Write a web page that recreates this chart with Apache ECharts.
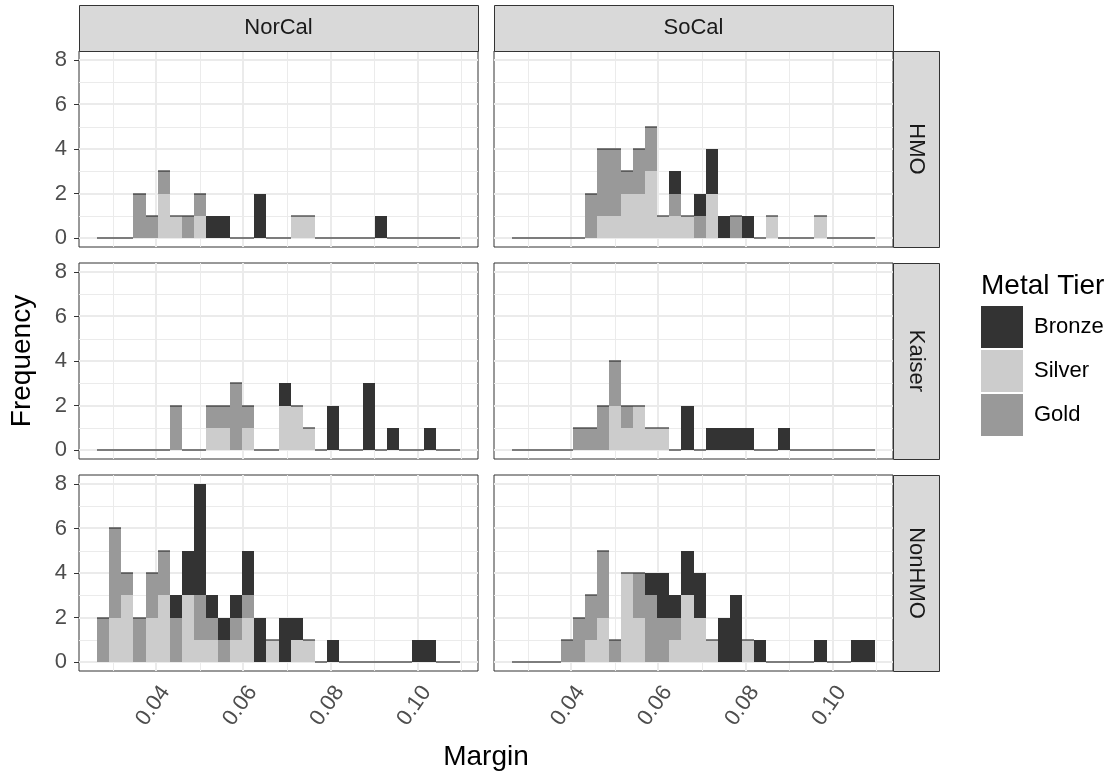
<!DOCTYPE html>
<html><head><meta charset="utf-8">
<script src="https://cdn.jsdelivr.net/npm/echarts@6/dist/echarts.min.js"></script>
<style>html,body{margin:0;padding:0;background:#fff}#c{width:1120px;height:778px}</style>
</head><body><div id="c"></div>
<script>
// ---------- data ----------
const binStart = 0.0264;
const binWidth = 0.002777;
const binCount = 30;
const regions = ['NorCal', 'SoCal'];
const plans = ['HMO', 'Kaiser', 'NonHMO'];
const tiers = ['Bronze', 'Silver', 'Gold'];
const xTickValues = [0.04, 0.06, 0.08, 0.10];
const xMinorValues = [0.03, 0.05, 0.07, 0.09, 0.11];
const yTickValues = [0, 2, 4, 6, 8];
const yMinorValues = [1, 3, 5, 7];

const norcalHmoBronze = [0,0,0,0,0,0,0,0,0,1,1,0,0,2,0,0,0,0,0,0,0,0,0,1,0,0,0,0,0,0];
const norcalHmoSilver = [0,0,0,0,0,2,1,0,1,0,0,0,0,0,0,0,1,1,0,0,0,0,0,0,0,0,0,0,0,0];
const norcalHmoGold   = [0,0,0,2,1,1,0,1,1,0,0,0,0,0,0,0,0,0,0,0,0,0,0,0,0,0,0,0,0,0];

const socalHmoBronze = [0,0,0,0,0,0,0,0,0,0,0,0,0,1,0,1,2,1,0,1,0,0,0,0,0,0,0,0,0,0];
const socalHmoSilver = [0,0,0,0,0,0,0,1,1,2,2,3,1,1,1,0,2,0,0,0,0,1,0,0,0,1,0,0,0,0];
const socalHmoGold   = [0,0,0,0,0,0,2,3,3,1,2,2,0,1,0,1,0,0,1,0,0,0,0,0,0,0,0,0,0,0];

const norcalKaiserBronze = [0,0,0,0,0,0,0,0,0,0,0,0,0,0,0,1,0,0,0,2,0,0,3,0,1,0,0,1,0,0];
const norcalKaiserSilver = [0,0,0,0,0,0,0,0,0,1,1,0,1,0,0,2,2,1,0,0,0,0,0,0,0,0,0,0,0,0];
const norcalKaiserGold   = [0,0,0,0,0,0,2,0,0,1,1,3,1,0,0,0,0,0,0,0,0,0,0,0,0,0,0,0,0,0];

const socalKaiserBronze = [0,0,0,0,0,0,0,0,0,0,0,0,0,0,2,0,1,1,1,1,0,0,1,0,0,0,0,0,0,0];
const socalKaiserSilver = [0,0,0,0,0,0,0,0,2,1,2,1,1,0,0,0,0,0,0,0,0,0,0,0,0,0,0,0,0,0];
const socalKaiserGold   = [0,0,0,0,0,1,1,2,2,1,0,0,0,0,0,0,0,0,0,0,0,0,0,0,0,0,0,0,0,0];

const norcalNonHmoBronze = [0,0,0,0,0,0,1,2,5,1,1,1,2,2,0,2,1,0,0,1,0,0,0,0,0,0,1,1,0,0];
const norcalNonHmoSilver = [0,2,3,0,2,3,0,3,1,1,0,1,2,0,1,0,1,1,0,0,0,0,0,0,0,0,0,0,0,0];
const norcalNonHmoGold   = [2,4,1,2,2,2,2,0,2,1,1,1,1,0,0,0,0,0,0,0,0,0,0,0,0,0,0,0,0,0];

const socalNonHmoBronze = [0,0,0,0,0,0,0,0,0,0,0,1,2,1,2,2,0,2,3,0,1,0,0,0,0,1,0,0,1,1];
const socalNonHmoSilver = [0,0,0,0,0,0,1,2,0,4,2,0,0,1,3,2,1,0,0,1,0,0,0,0,0,0,0,0,0,0];
const socalNonHmoGold   = [0,0,0,0,1,2,2,3,1,0,2,3,2,1,0,0,0,0,0,0,0,0,0,0,0,0,0,0,0,0];

// panels: [row][col]
const panelData = [
  [{Bronze: norcalHmoBronze, Silver: norcalHmoSilver, Gold: norcalHmoGold},
   {Bronze: socalHmoBronze, Silver: socalHmoSilver, Gold: socalHmoGold}],
  [{Bronze: norcalKaiserBronze, Silver: norcalKaiserSilver, Gold: norcalKaiserGold},
   {Bronze: socalKaiserBronze, Silver: socalKaiserSilver, Gold: socalKaiserGold}],
  [{Bronze: norcalNonHmoBronze, Silver: norcalNonHmoSilver, Gold: norcalNonHmoGold},
   {Bronze: socalNonHmoBronze, Silver: socalNonHmoSilver, Gold: socalNonHmoGold}]
];

// ---------- layout / style ----------
const colors = {Bronze: '#333333', Silver: '#CCCCCC', Gold: '#999999'};
const stackOrder = ['Silver', 'Gold', 'Bronze']; // bottom -> top
const colLeft = [79, 494], colWidth = 399;
const rowTop = [51, 263, 475], rowHeight = 196;
const stripSize = 46;
const FONT = 'Liberation Sans, Arial, sans-serif';
const SMALL = 22, BIG = 28;

const xRange = binCount * binWidth;
const xMin = binStart - 0.05 * xRange;
const xMax = binStart + xRange + 0.05 * xRange;
const yMin = -0.4, yMax = 8.4;

const grids = [], xAxes = [], yAxes = [], series = [];
let k = 0;
for (let r = 0; r < 3; r++) {
  for (let c = 0; c < 2; c++) {
    grids.push({left: colLeft[c], top: rowTop[r], width: colWidth, height: rowHeight,
      show: true, borderColor: '#333333', borderWidth: 1, backgroundColor: '#ffffff', containLabel: false});
    const bottom = r === 2, leftCol = c === 0;
    xAxes.push({type: 'value', gridIndex: k, min: xMin, max: xMax,
      axisLine: {show: false}, splitLine: {show: false},
      axisTick: {show: bottom, length: 5, customValues: xTickValues, lineStyle: {color: '#333333', width: 1}},
      axisLabel: {show: bottom, customValues: xTickValues, rotate: 55, margin: 11, verticalAlign: 'top',
        color: '#4D4D4D', fontSize: SMALL, fontFamily: FONT, formatter: v => v.toFixed(2)}});
    yAxes.push({type: 'value', gridIndex: k, min: yMin, max: yMax,
      axisLine: {show: false}, splitLine: {show: false},
      axisTick: {show: leftCol, length: 5, customValues: yTickValues, lineStyle: {color: '#333333', width: 1}},
      axisLabel: {show: leftCol, customValues: yTickValues, margin: 12,
        color: '#4D4D4D', fontSize: SMALL, fontFamily: FONT, formatter: v => String(Math.round(v))}});

    // grid lines (horizontal)
    const hData = yMinorValues.map(v => [xMin, v, 1]).concat(yTickValues.map(v => [xMin, v, 2]));
    series.push({type: 'custom', xAxisIndex: k, yAxisIndex: k, z: 1, silent: true, clip: true,
      data: hData, encode: {x: 0, y: 1},
      renderItem: (params, api) => {
        const cs = params.coordSys;
        const p = api.coord([api.value(0), api.value(1)]);
        const w = api.value(2);
        const yy = w === 1 ? Math.round(p[1]) + 0.5 : Math.round(p[1]);
        return {type: 'line', shape: {x1: cs.x, y1: yy, x2: cs.x + cs.width, y2: yy},
          style: {stroke: '#EBEBEB', lineWidth: w}};
      }});
    // grid lines (vertical)
    const vData = xMinorValues.map(v => [v, yMin, 1]).concat(xTickValues.map(v => [v, yMin, 2]));
    series.push({type: 'custom', xAxisIndex: k, yAxisIndex: k, z: 1, silent: true, clip: true,
      data: vData, encode: {x: 0, y: 1},
      renderItem: (params, api) => {
        const cs = params.coordSys;
        const p = api.coord([api.value(0), api.value(1)]);
        const w = api.value(2);
        const xx = w === 1 ? Math.round(p[0]) + 0.5 : Math.round(p[0]);
        return {type: 'line', shape: {x1: xx, y1: cs.y, x2: xx, y2: cs.y + cs.height},
          style: {stroke: '#EBEBEB', lineWidth: w}};
      }});

    // stacked histogram bars
    const pd = panelData[r][c];
    const below = new Array(binCount).fill(0);
    stackOrder.forEach(tier => {
      const counts = pd[tier];
      const data = counts.map((cnt, i) => [binStart + i * binWidth, binStart + (i + 1) * binWidth, below[i], below[i] + cnt, cnt]);
      counts.forEach((cnt, i) => { below[i] += cnt; });
      const col = colors[tier];
      const zeroLine = tier === 'Bronze';
      series.push({type: 'custom', name: tier, xAxisIndex: k, yAxisIndex: k, z: 3,
        itemStyle: {color: col}, data: data, encode: {x: [0, 1], y: [2, 3]},
        renderItem: (params, api) => {
          const pA = api.coord([api.value(0), api.value(3)]);
          const pB = api.coord([api.value(1), api.value(2)]);
          const l = Math.round(pA[0]), rr = Math.round(pB[0]);
          const t = Math.round(pA[1]), b = Math.round(pB[1]);
          if (api.value(4) > 0) {
            return {type: 'rect', shape: {x: l, y: t, width: rr - l, height: b - t}, style: {fill: col}};
          }
          if (zeroLine) {
            return {type: 'line', shape: {x1: l, y1: t, x2: rr, y2: t}, style: {stroke: '#333333', lineWidth: 1.2}};
          }
          return null;
        }});
    });
    k++;
  }
}

// strips & titles
const graphics = [];
regions.forEach((name, c) => {
  graphics.push({type: 'rect', left: colLeft[c], top: 5, shape: {width: colWidth, height: stripSize},
    style: {fill: '#D9D9D9', stroke: '#333333', lineWidth: 1}, z: 10});
  graphics.push({type: 'text', x: colLeft[c] + colWidth / 2, y: 5 + stripSize / 2,
    style: {text: name, fill: '#1A1A1A', font: SMALL + 'px ' + FONT, textAlign: 'center', textVerticalAlign: 'middle'}, z: 11});
});
plans.forEach((name, r) => {
  const x0 = colLeft[1] + colWidth;
  graphics.push({type: 'rect', left: x0, top: rowTop[r], shape: {width: stripSize, height: rowHeight},
    style: {fill: '#D9D9D9', stroke: '#333333', lineWidth: 1}, z: 10});
  graphics.push({type: 'text', x: x0 + stripSize / 2, y: rowTop[r] + rowHeight / 2, rotation: -Math.PI / 2,
    style: {text: name, fill: '#1A1A1A', font: SMALL + 'px ' + FONT, textAlign: 'center', textVerticalAlign: 'middle'}, z: 11});
});
graphics.push({type: 'text', x: (colLeft[0] + colLeft[1] + colWidth) / 2, y: 757,
  style: {text: 'Margin', fill: '#000000', font: BIG + 'px ' + FONT, textAlign: 'center', textVerticalAlign: 'middle'}});
graphics.push({type: 'text', x: 22, y: rowTop[0] + (rowTop[2] + rowHeight - rowTop[0]) / 2, rotation: Math.PI / 2,
  style: {text: 'Frequency', fill: '#000000', font: BIG + 'px ' + FONT, textAlign: 'center', textVerticalAlign: 'middle'}});
graphics.push({type: 'text', x: 981, y: 286,
  style: {text: 'Metal Tier', fill: '#000000', font: BIG + 'px ' + FONT, textAlign: 'left', textVerticalAlign: 'middle'}});

const chart = echarts.init(document.getElementById('c'), null, {renderer: 'canvas'});
chart.setOption({
  animation: false,
  backgroundColor: '#ffffff',
  grid: grids, xAxis: xAxes, yAxis: yAxes, series: series,
  legend: {data: tiers.map(t => ({name: t, icon: 'rect', itemStyle: {color: colors[t]}})),
    orient: 'vertical', left: 981, top: 306, itemWidth: 42, itemHeight: 42, itemGap: 2,
    selectedMode: false, padding: 0,
    textStyle: {fontSize: SMALL, fontFamily: FONT, color: '#000000', padding: [0, 0, 0, 6]}},
  graphic: graphics
});
</script></body></html>
